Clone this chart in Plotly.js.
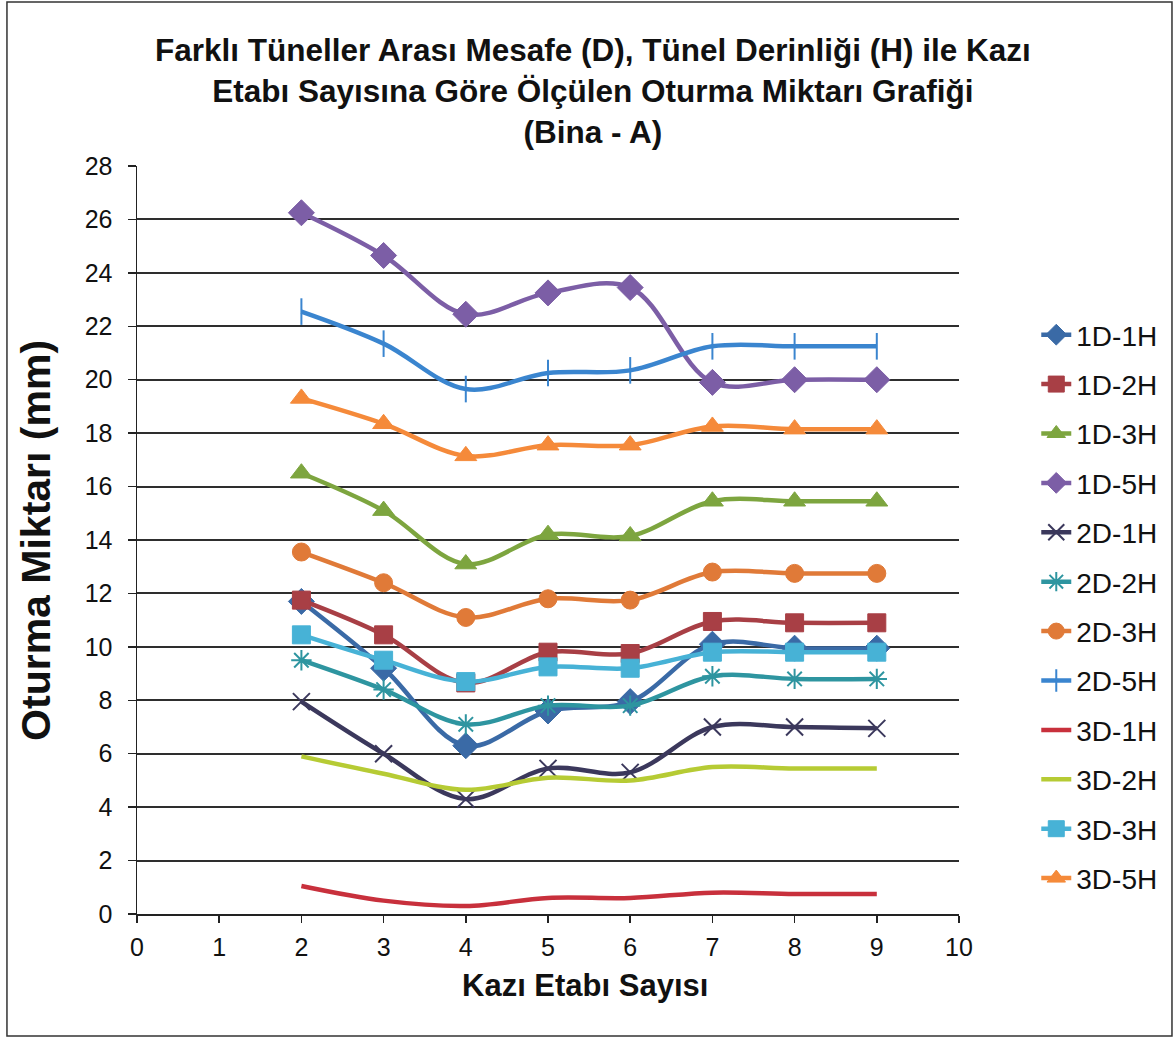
<!DOCTYPE html>
<html>
<head>
<meta charset="utf-8">
<script src="https://cdn.plot.ly/plotly-3.0.1.min.js"></script>
<style>
  html, body { margin: 0; padding: 0; background: #ffffff; }
  #chart { width: 1174px; height: 1038px; }
</style>
</head>
<body>
<div id="chart"></div>
<script>
// Kazı etabı (excavation stage) numbers on the x axis
const stages = [2, 3, 4, 5, 6, 7, 8, 9];

// Measured settlement (mm) for each tunnel spacing (D) / depth (H) case
const s1D1H = [11.7, 9.2, 6.3, 7.6, 7.95, 10.1, 9.95, 9.95];
const s1D2H = [11.75, 10.45, 8.65, 9.8, 9.75, 10.95, 10.9, 10.9];
const s1D3H = [16.5, 15.1, 13.1, 14.2, 14.15, 15.45, 15.45, 15.45];
const s1D5H = [26.25, 24.65, 22.45, 23.25, 23.45, 19.9, 20.0, 20.0];
const s2D1H = [7.95, 6.0, 4.3, 5.45, 5.3, 7.0, 7.0, 6.95];
const s2D2H = [9.5, 8.4, 7.1, 7.8, 7.8, 8.9, 8.8, 8.8];
const s2D3H = [13.55, 12.4, 11.1, 11.8, 11.75, 12.8, 12.75, 12.75];
const s2D5H = [22.55, 21.35, 19.65, 20.25, 20.35, 21.25, 21.25, 21.25];
const s3D1H = [1.05, 0.5, 0.3, 0.6, 0.6, 0.8, 0.75, 0.75];
const s3D2H = [5.9, 5.25, 4.65, 5.1, 5.0, 5.5, 5.45, 5.45];
const s3D3H = [10.45, 9.5, 8.7, 9.25, 9.2, 9.8, 9.8, 9.8];
const s3D5H = [19.3, 18.35, 17.15, 17.55, 17.55, 18.25, 18.15, 18.15];

const seriesNames = ['1D-1H', '1D-2H', '1D-3H', '1D-5H', '2D-1H', '2D-2H',
                     '2D-3H', '2D-5H', '3D-1H', '3D-2H', '3D-3H', '3D-5H'];
const seriesValues = [s1D1H, s1D2H, s1D3H, s1D5H, s2D1H, s2D2H,
                      s2D3H, s2D5H, s3D1H, s3D2H, s3D3H, s3D5H];

// Per-series look: colour, marker symbol (null = plain line)
const styles = [
  { color: '#3a6aa6', symbol: 'diamond', size: 20 },
  { color: '#a83f45', symbol: 'square', size: 18 },
  { color: '#7da53f', symbol: 'triangle-up', size: 19 },
  { color: '#7c5ea6', symbol: 'diamond', size: 20 },
  { color: '#3b385c', symbol: 'x-thin-open', size: 17 },
  { color: '#2e95a0', symbol: 'asterisk-open', size: 17 },
  { color: '#e07a38', symbol: 'circle', size: 18 },
  { color: '#3a85cf', symbol: 'line-ns-open', size: 19 },
  { color: '#c8303c', symbol: null },
  { color: '#b6cb34', symbol: null },
  { color: '#47b2d6', symbol: 'square', size: 18 },
  { color: '#f58a3a', symbol: 'triangle-up', size: 19 }
];

const traces = seriesNames.map((name, i) => {
  const st = styles[i];
  const t = {
    type: 'scatter',
    x: stages,
    y: seriesValues[i],
    name: name,
    legendgroup: name,
    mode: st.symbol ? 'lines+markers' : 'lines',
    line: { color: st.color, width: 4.5, shape: 'spline', smoothing: 1 },
    hoverinfo: 'x+y+name'
  };
  if (st.symbol) {
    const open = st.symbol.indexOf('open') >= 0;
    t.marker = {
      symbol: st.symbol,
      size: st.size,
      color: st.color,
      line: { color: st.color, width: open ? 2 : 1 }
    };
  }
  return t;
});

const FONT = "'Liberation Sans', Arial, sans-serif";

const layout = {
  width: 1174,
  height: 1038,
  paper_bgcolor: '#ffffff',
  plot_bgcolor: '#ffffff',
  margin: { l: 137, r: 215, t: 166, b: 124 },
  font: { family: FONT, color: '#000000' },
  title: {
    text: '<b>Farklı Tüneller Arası Mesafe (D), Tünel Derinliği (H) ile Kazı<br>Etabı Sayısına Göre Ölçülen Oturma Miktarı Grafiği<br>(Bina - A)</b>',
    font: { family: FONT, size: 31.5, color: '#111111' },
    x: 0.505, xanchor: 'center',
    y: 0.941, yanchor: 'top', yref: 'container'
  },
  xaxis: {
    range: [0, 10],
    tickmode: 'linear', tick0: 0, dtick: 1,
    showgrid: false, zeroline: false,
    showline: true, linecolor: '#222222', linewidth: 1.5,
    ticks: 'outside', ticklen: 7, tickwidth: 1.5, tickcolor: '#222222',
    ticklabelstandoff: 3,
    tickfont: { family: FONT, size: 25, color: '#111111' },
    fixedrange: true
  },
  yaxis: {
    range: [0, 28],
    tickmode: 'linear', tick0: 0, dtick: 2,
    showgrid: true, gridcolor: '#2e2e2e', gridwidth: 2,
    zeroline: false,
    showline: true, linecolor: '#222222', linewidth: 1.5,
    ticks: 'outside', ticklen: 8, tickwidth: 1.5, tickcolor: '#222222',
    ticklabelstandoff: 10,
    tickfont: { family: FONT, size: 25, color: '#111111' },
    fixedrange: true
  },
  showlegend: true,
  legend: {
    x: 1.094, xanchor: 'left',
    y: 0.8075, yanchor: 'top',
    font: { family: FONT, size: 28, color: '#111111' },
    tracegroupgap: 10,
    bgcolor: 'rgba(0,0,0,0)',
    borderwidth: 0
  },
  annotations: [
    {
      text: '<b>Kazı Etabı Sayısı</b>',
      xref: 'paper', yref: 'paper',
      x: 0.545, y: -0.095, xanchor: 'center', yanchor: 'middle',
      showarrow: false,
      font: { family: FONT, size: 31, color: '#111111' }
    },
    {
      text: '<b>Oturma Miktarı (mm)</b>',
      xref: 'paper', yref: 'paper',
      x: -0.123, y: 0.5, xanchor: 'center', yanchor: 'middle',
      textangle: -90,
      showarrow: false,
      font: { family: FONT, size: 41, color: '#111111' }
    }
  ],
  shapes: [
    {
      type: 'rect', xref: 'paper', yref: 'paper',
      x0: -0.1582, x1: 1.2591, y0: -0.1631, y1: 1.2193,
      line: { color: '#333333', width: 1.5 },
      fillcolor: 'rgba(0,0,0,0)',
      layer: 'below'
    }
  ]
};

Plotly.newPlot('chart', traces, layout, { displayModeBar: false, staticPlot: true });
</script>
</body>
</html>
